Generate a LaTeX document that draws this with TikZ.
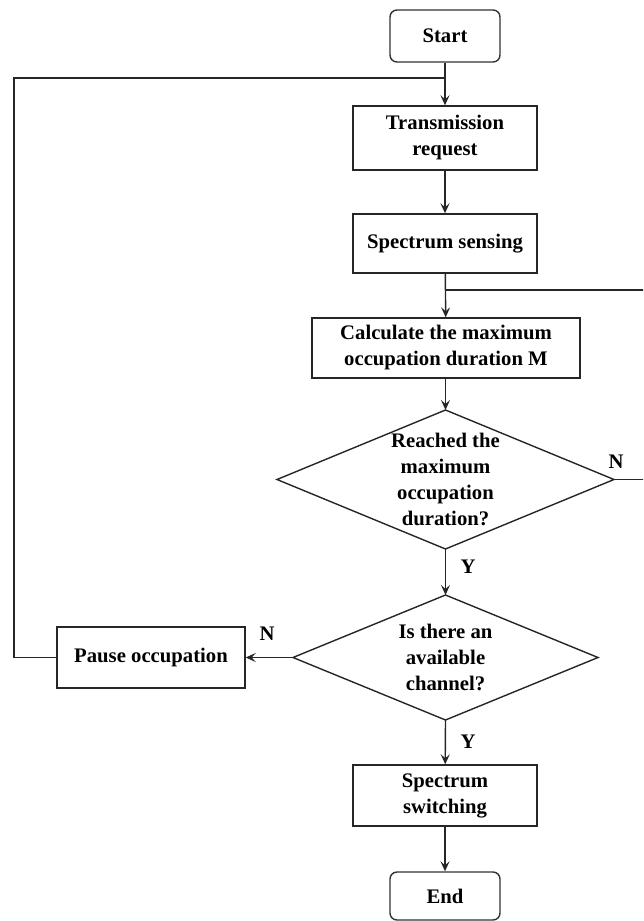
\documentclass[tikz,border=0pt]{standalone}
\usepackage{fontspec}
\setmainfont{Liberation Serif}
\usetikzlibrary{shapes.geometric,arrows.meta}
\begin{document}
\begin{tikzpicture}[x=1pt,y=-1pt,
  every node/.style={font=\fontsize{20.7}{26}\selectfont\bfseries, align=center, inner sep=0pt},
  flowline/.style={draw=black!85, line width=1.4pt},
  arr/.style={flowline, -{Stealth[length=10pt,width=9pt,inset=4pt]}},
  procbox/.style={draw=black!85, line width=1.4pt, rectangle},
  termbox/.style={draw=black!80, line width=1.4pt, rectangle, rounded corners=7pt},
  lbl/.style={font=\fontsize{20.7}{22}\selectfont\bfseries}]
\useasboundingbox (0,0) rectangle (643,921);
\clip (0,0) rectangle (643,921);

% terminals and process boxes
\node[termbox, minimum width=110pt, minimum height=52pt] (start) at (445,36) {Start};
\node[procbox, minimum width=184pt, minimum height=64pt] (req) at (445,138) {Transmission\\request};
\node[procbox, minimum width=184pt, minimum height=59pt] (sense) at (445,243.5) {Spectrum sensing};
\node[procbox, minimum width=268pt, minimum height=60pt] (calc) at (446,348) {Calculate the maximum\\occupation duration M};
\node[procbox, minimum width=184pt, minimum height=61pt] (switch) at (445,795.5) {Spectrum\\switching};
\node[termbox, minimum width=110pt, minimum height=48pt] (end) at (445,896) {End};
\node[procbox, minimum width=188pt, minimum height=61pt] (pause) at (151,657.5) {Pause occupation};

% decisions, drawn as explicit rhombi
\coordinate (d1) at (445.5,479.5);
\draw[flowline] (445.5,410) coordinate (d1t) -- (614,479.5) coordinate (d1r)
  -- (445.5,549) coordinate (d1b) -- (277,479.5) coordinate (d1l) -- cycle;
\node at (d1) {Reached the\\maximum\\occupation\\duration?};

\coordinate (d2) at (445.5,657.5);
\draw[flowline] (445.5,595) coordinate (d2t) -- (598,657.5) coordinate (d2r)
  -- (445.5,720) coordinate (d2b) -- (293,657.5) coordinate (d2l) -- cycle;
\node at (d2) {Is there an\\available\\channel?};

% loop junctions
\coordinate (jtop) at (445,78);
\coordinate (jmid) at (445,290);
\coordinate (farL) at (14,78);
\coordinate (farLb) at (14,657.5);
\coordinate (farR) at (645,290);
\coordinate (farRb) at (645,479.5);

% main flow
\draw[arr] (start) -- (req);
\draw[arr] (req) -- (sense);
\draw[arr] (sense) -- (calc);
\draw[arr] (calc.south -| d1t) -- (d1t);
\draw[arr] (d1b) -- (d2t);
\draw[arr] (d2b) -- (switch);
\draw[arr] (switch) -- (end);
\draw[arr] (d2l) -- (pause);

% feedback loops
\draw[flowline] (pause.west) -- (farLb) -- (farL) -- (jtop);
\draw[flowline] (d1r) -- (farRb) -- (farR) -- (jmid);

% branch labels
\node[lbl] (n1) at (616,462) {N};
\node[lbl] (y1) at (468,567) {Y};
\node[lbl] (n2) at (267,634) {N};
\node[lbl] (y2) at (468,742) {Y};
\end{tikzpicture}
\end{document}
